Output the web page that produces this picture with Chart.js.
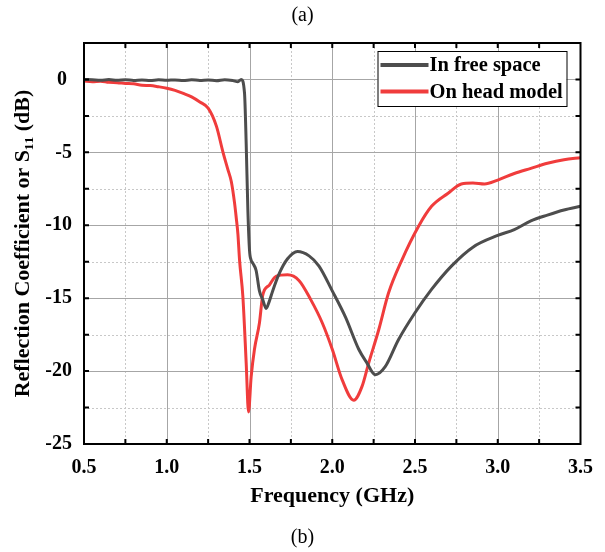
<!DOCTYPE html>
<html>
<head>
<meta charset="utf-8">
<script src="https://cdn.jsdelivr.net/npm/chart.js@4.4.1/dist/chart.umd.min.js"></script>
<style>
  html, body { margin: 0; padding: 0; background: #fff; }
  #wrap { width: 605px; height: 552px; }
</style>
</head>
<body>
<div id="wrap"><canvas id="s11Chart" width="605" height="552"></canvas></div>
<script>
// In free space
const freeSpaceFreq = [0.5, 0.55, 0.6, 0.65, 0.7, 0.75, 0.8, 0.85, 0.9, 0.95, 1.0, 1.05, 1.1, 1.15, 1.2, 1.25, 1.3, 1.35, 1.4, 1.43, 1.45,
    1.47, 1.48, 1.49, 1.5, 1.51, 1.52, 1.54, 1.56, 1.58, 1.6, 1.62, 1.64, 1.68, 1.73, 1.79, 1.86, 1.92, 2.0, 2.08, 2.16, 2.21,
    2.26, 2.32, 2.4, 2.5, 2.6, 2.72, 2.85, 3.0, 3.1, 3.2, 3.3, 3.4, 3.5];
const freeSpaceS11 = [0, -0.02, -0.05, -0.01, -0.06, -0.02, -0.07, -0.03, -0.08, -0.02, -0.06, -0.03, -0.08, -0.02, -0.07, -0.03, -0.09, -0.02, -0.08, -0.15, 0,
    -0.96, -4.4, -8.9, -11.7, -12.4, -12.6, -13.1, -14.5, -15.1, -15.7, -15.2, -14.5, -13.3, -12.3, -11.8, -12.1, -12.8, -14.5, -16.3, -18.5, -19.45,
    -20.25, -19.7, -17.85, -16.0, -14.4, -12.8, -11.5, -10.7, -10.3, -9.7, -9.3, -8.95, -8.7];

// On head model
const headFreq = [0.5, 0.55, 0.6, 0.65, 0.7, 0.75, 0.8, 0.85, 0.9, 0.95, 1.0, 1.05, 1.1, 1.15, 1.2, 1.25, 1.3, 1.34, 1.37, 1.39, 1.41,
    1.42, 1.43, 1.44, 1.46, 1.48, 1.494, 1.51, 1.53, 1.56, 1.58, 1.62, 1.66, 1.73, 1.8, 1.87, 1.94, 2.0, 2.06, 2.13, 2.18, 2.22,
    2.28, 2.34, 2.42, 2.52, 2.6, 2.7, 2.78, 2.85, 2.92, 3.0, 3.1, 3.2, 3.3, 3.4, 3.5];
const headS11 = [-0.1, -0.15, -0.12, -0.2, -0.22, -0.27, -0.3, -0.4, -0.42, -0.5, -0.6, -0.75, -0.96, -1.2, -1.55, -1.97, -3.2, -5.0, -6.2, -7.0, -8.5,
    -9.5, -10.6, -12.4, -14.9, -19.45, -22.8, -20.4, -18.5, -16.7, -14.8, -14.1, -13.5, -13.4, -13.8, -15.1, -16.7, -18.5, -20.6, -22.0, -21.05, -19.45,
    -17.2, -14.65, -12.4, -10.1, -8.7, -7.8, -7.17, -7.1, -7.17, -6.9, -6.45, -6.1, -5.75, -5.5, -5.37];

const seriesLabels = ['In free space', 'On head model'];
const seriesColors = ['#4d4d4d', '#f03c3c'];
const xTicks = [0.5, 1.0, 1.5, 2.0, 2.5, 3.0, 3.5];
const yTicks = [-25, -20, -15, -10, -5, 0];

const serif = '"Liberation Serif", "Times New Roman", serif';

const toPoints = (xs, ys) => xs.map((x, i) => ({ x: x, y: ys[i] }));

// grid, frame with inside ticks, and boxed legend
const framePlugin = {
    id: 'framePlugin',
    beforeDatasetsDraw(chart) {
        const { ctx, chartArea: a, scales: { x, y } } = chart;
        ctx.save();
        ctx.lineWidth = 1;
        for (let v = 0.75; v < 3.49; v += 0.25) {
            const major = Math.abs(v * 2 - Math.round(v * 2)) < 1e-6;
            const px = Math.round(x.getPixelForValue(v)) + 0.5;
            ctx.strokeStyle = major ? '#a6a6a6' : '#c8c8c8';
            ctx.setLineDash(major ? [] : [2, 2]);
            ctx.beginPath(); ctx.moveTo(px, a.top); ctx.lineTo(px, a.bottom); ctx.stroke();
        }
        for (let v = -22.5; v < 2.4; v += 2.5) {
            const major = Math.abs(v / 5 - Math.round(v / 5)) < 1e-6;
            const py = Math.round(y.getPixelForValue(v)) + 0.5;
            ctx.strokeStyle = major ? '#a6a6a6' : '#c8c8c8';
            ctx.setLineDash(major ? [] : [2, 2]);
            ctx.beginPath(); ctx.moveTo(a.left, py); ctx.lineTo(a.right, py); ctx.stroke();
        }
        ctx.restore();
    },
    afterDatasetsDraw(chart) {
        const { ctx, chartArea: a, scales: { x, y } } = chart;
        ctx.save();
        ctx.strokeStyle = '#000';
        ctx.lineWidth = 2;
        ctx.setLineDash([]);
        ctx.strokeRect(a.left, a.top, a.right - a.left, a.bottom - a.top);

        const len = 5;
        ctx.beginPath();
        for (let v = 0.75; v < 3.49; v += 0.25) {
            const px = x.getPixelForValue(v);
            ctx.moveTo(px, a.bottom); ctx.lineTo(px, a.bottom - len);
            ctx.moveTo(px, a.top); ctx.lineTo(px, a.top + len);
        }
        for (let v = -22.5; v < 2.4; v += 2.5) {
            const py = y.getPixelForValue(v);
            ctx.moveTo(a.left, py); ctx.lineTo(a.left + len, py);
            ctx.moveTo(a.right, py); ctx.lineTo(a.right - len, py);
        }
        ctx.stroke();

        // legend box
        const bx = a.right - 203, by = a.top + 8, bw = 189, bh = 55;
        ctx.fillStyle = '#fff';
        ctx.fillRect(bx, by, bw, bh);
        ctx.lineWidth = 1;
        ctx.strokeRect(bx + 0.5, by + 0.5, bw, bh);
        ctx.font = 'bold 20.5px ' + serif;
        ctx.textBaseline = 'middle';
        ctx.textAlign = 'left';
        chart.data.datasets.forEach((ds, i) => {
            const ly = by + 14 + i * 26.5;
            ctx.strokeStyle = ds.borderColor;
            ctx.lineWidth = 4;
            ctx.beginPath(); ctx.moveTo(bx + 3, ly); ctx.lineTo(bx + 51, ly); ctx.stroke();
            ctx.fillStyle = '#000';
            ctx.fillText(ds.label, bx + 52, ly + 1);
        });
        ctx.restore();
    }
};

const ctx = document.getElementById('s11Chart').getContext('2d');
new Chart(ctx, {
    type: 'line',
    data: {
        datasets: [{
            label: seriesLabels[0],
            data: toPoints(freeSpaceFreq, freeSpaceS11),
            borderColor: seriesColors[0],
            backgroundColor: seriesColors[0],
            borderWidth: 3,
            pointRadius: 0,
            cubicInterpolationMode: 'monotone'
        }, {
            label: seriesLabels[1],
            data: toPoints(headFreq, headS11),
            borderColor: seriesColors[1],
            backgroundColor: seriesColors[1],
            borderWidth: 3,
            pointRadius: 0,
            cubicInterpolationMode: 'monotone'
        }]
    },
    options: {
        responsive: false,
        animation: false,
        layout: { padding: 0 },
        plugins: {
            legend: { display: false },
            tooltip: { enabled: false },
            title: {
                display: true,
                text: '(a)',
                color: '#000',
                font: { family: serif, size: 20, weight: 'normal', lineHeight: 1.2 },
                padding: { top: 4, bottom: 15 }
            },
            subtitle: {
                display: true,
                position: 'bottom',
                text: '(b)',
                color: '#000',
                font: { family: serif, size: 20, weight: 'normal', lineHeight: 1.2 },
                padding: { top: 0, bottom: 2 }
            }
        },
        scales: {
            x: {
                type: 'linear',
                min: 0.5,
                max: 3.5,
                afterBuildTicks: scale => { scale.ticks = xTicks.map(v => ({ value: v })); },
                afterFit: scale => { scale.height = 82; },
                grid: { display: false, drawTicks: false },
                border: { display: false },
                ticks: {
                    color: '#000',
                    padding: 12,
                    maxRotation: 0,
                    font: { family: serif, size: 20, weight: 'bold' },
                    callback: v => v.toFixed(1)
                },
                title: {
                    display: true,
                    text: 'Frequency (GHz)',
                    color: '#000',
                    font: { family: serif, size: 22, weight: 'bold', lineHeight: 1.2 },
                    padding: { top: 0, bottom: 16 }
                }
            },
            y: {
                min: -25,
                max: 2.5,
                afterBuildTicks: scale => { scale.ticks = yTicks.map(v => ({ value: v })); },
                afterFit: scale => { scale.width = 84; },
                grid: { display: false, drawTicks: false },
                border: { display: false },
                ticks: {
                    color: '#000',
                    padding: 12,
                    font: { family: serif, size: 20, weight: 'bold' },
                    callback: v => (v === 0 ? '0 ' : String(v))
                },
                title: {
                    display: true,
                    text: 'Reflection Coefficient or S\u2081\u2081 (dB)',
                    color: '#000',
                    font: { family: serif, size: 22, weight: 'bold', lineHeight: 1.2 },
                    padding: { top: 10, bottom: 0 }
                }
            },
            // empty right-hand axis, only reserves the margin right of the frame
            yRight: {
                position: 'right',
                afterFit: scale => { scale.width = 23; },
                grid: { display: false, drawTicks: false },
                border: { display: false },
                ticks: { display: false }
            }
        }
    },
    plugins: [framePlugin]
});
</script>
</body>
</html>
